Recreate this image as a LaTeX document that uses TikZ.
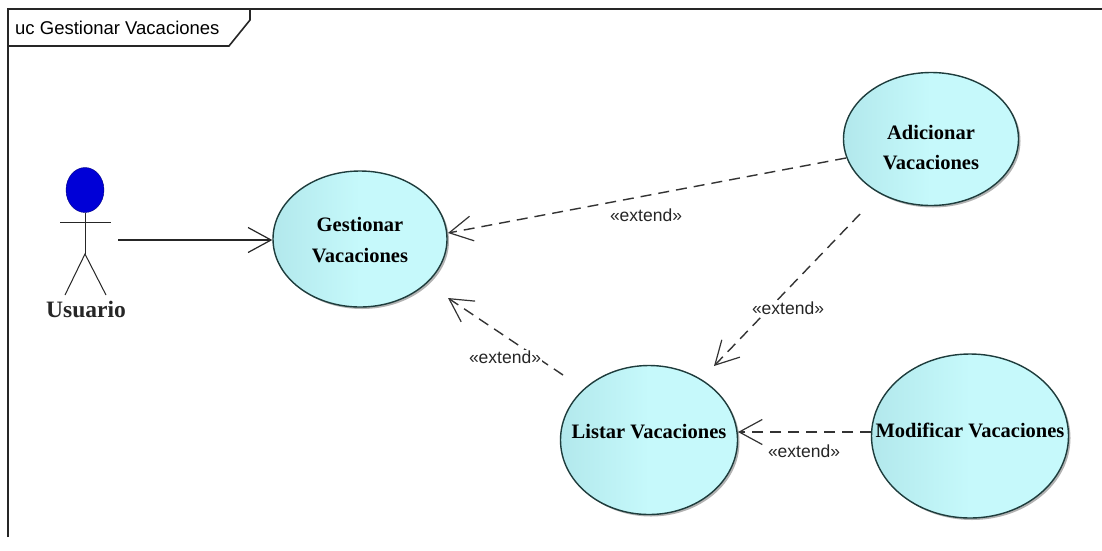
\documentclass[tikz,border=0pt]{standalone}
\usepackage{fontspec}
\setmainfont{Liberation Serif}
\newfontfamily\labelfont{Liberation Sans}
\usetikzlibrary{arrows.meta,shapes.geometric,shadows}
\definecolor{ucfill}{RGB}{198,249,251}
\definecolor{ucshade}{RGB}{178,232,236}
\definecolor{ucedge}{RGB}{30,60,60}
\definecolor{actorblue}{RGB}{0,0,215}
\tikzset{
  usecase/.style={ellipse,draw=ucedge,line width=1.4pt,inner sep=0pt,
    left color=ucshade,right color=ucfill,middle color=ucfill,
    drop shadow={shadow xshift=2pt,shadow yshift=-2pt,opacity=.3,fill=black},
    align=center,font=\fontsize{20.5}{30.5}\selectfont\bfseries},
  openarrow/.style={-{Straight Barb[length=23pt,width=25pt,line width=1.2pt]}},
  assoc/.style={draw=black!85,line width=1.3pt,openarrow},
  ext/.style={draw=black!80,line width=1.4pt,dash pattern=on 11pt off 7pt,openarrow},
  stereo/.style={font=\labelfont\fontsize{17.5}{19}\selectfont,text=black!85,inner sep=1pt,fill=white},
  frameline/.style={draw=black!85,line width=1.6pt},
  limb/.style={draw=black!85,line width=1pt}
}
\begin{document}
\begin{tikzpicture}[x=1pt,y=-1pt]
\useasboundingbox[fill=white] (0,0) rectangle (1102,550);
\draw[frameline] (8,537) -- (8,9) -- (1102,9);
\draw[frameline] (8,46) -- (229,46) -- (250,20) -- (250,9);
\node[font=\labelfont\fontsize{18.5}{20}\selectfont,anchor=west,inner sep=0pt] (frametitle) at (15,28) {uc Gestionar Vacaciones};
% actor
\node[ellipse,fill=actorblue,draw=blue!50!black,minimum width=38pt,minimum height=45pt,inner sep=0pt] (head) at (85,190) {};
\coordinate (hip) at (85,254);
\coordinate (armL) at (60,222);
\coordinate (armR) at (111,222);
\coordinate (footL) at (65,295);
\coordinate (footR) at (106,295);
\draw[limb] (head.south) -- (hip);
\draw[limb] (armL) -- (armR);
\draw[limb] (footL) -- (hip) -- (footR);
\node[font=\fontsize{23.5}{26}\selectfont\bfseries,inner sep=0pt,text=black!85] (actorname) at (86,309) {Usuario};
\coordinate (assocstart) at (118,240);
% use cases
\node[usecase,minimum width=174pt,minimum height=136pt] (gest) at (360,239) {\rule{0pt}{16pt}Gestionar\\Vacaciones};
\node[usecase,minimum width=175pt,minimum height=133pt] (adic) at (931,139) {\rule{0pt}{31pt}Adicionar\\Vacaciones};
\node[usecase,minimum width=177pt,minimum height=149pt] (list) at (649,440) {\rule[-18pt]{0pt}{18pt}\makebox[0pt]{Listar Vacaciones}};
\node[usecase,minimum width=197pt,minimum height=164pt] (modi) at (970,436) {\rule[-12pt]{0pt}{12pt}\makebox[0pt]{Modificar Vacaciones}};
% connector ends
\coordinate (a1) at (846,158);
\coordinate (g1) at (448,233);
\coordinate (a2) at (860,214);
\coordinate (l2) at (714,366);
\coordinate (l3) at (563,375);
\coordinate (g3) at (448,298);
\coordinate (m4) at (871,432);
\coordinate (l4) at (738,432);
% connectors
\draw[assoc] (assocstart) -- (gest.west |- assocstart);
\draw[ext] (a1) -- (g1);
\draw[ext] (a2) -- (l2);
\draw[ext] (l3) -- (g3);
\draw[ext] (m4) -- (l4);
\node[stereo] (e1) at (646,215) {«extend»};
\node[stereo] (e2) at (788,308) {«extend»};
\node[stereo] (e3) at (505,357) {«extend»};
\node[stereo] (e4) at (804,451) {«extend»};
\end{tikzpicture}
\end{document}
